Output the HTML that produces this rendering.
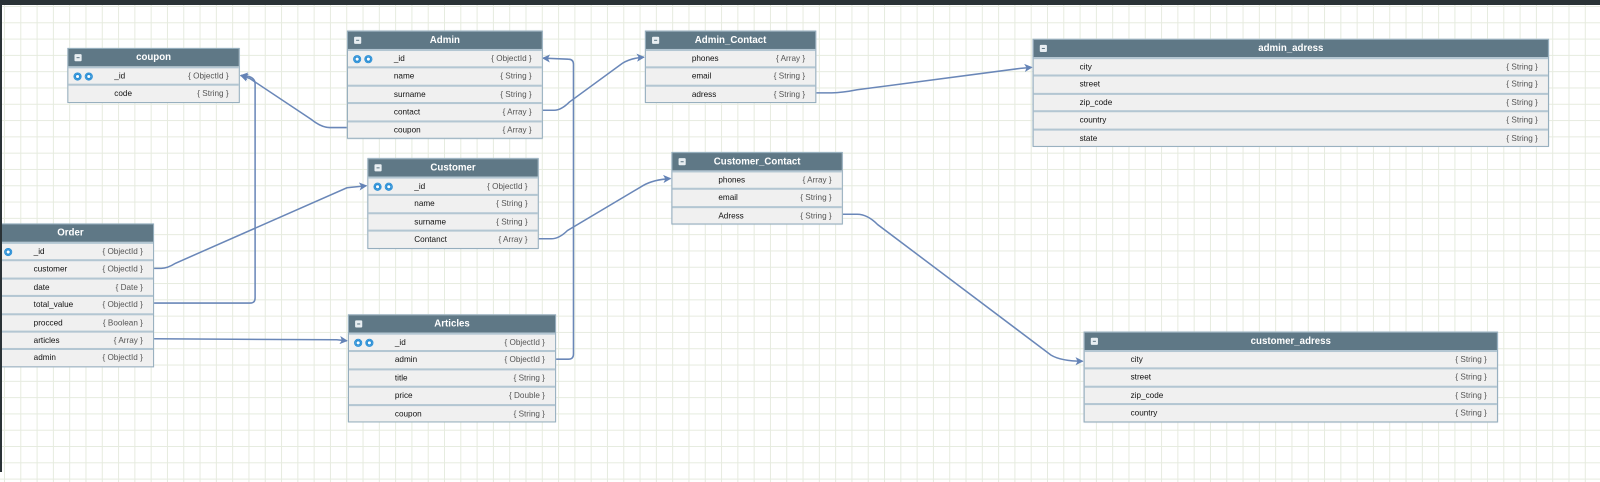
<!DOCTYPE html>
<html><head><meta charset="utf-8"><style>
body{margin:0;width:1600px;height:472px;overflow:hidden;position:relative;font-family:"Liberation Sans",sans-serif;
background-color:#fff;background-image:linear-gradient(#e6ebdf 1px,transparent 1px),linear-gradient(90deg,#e6ebdf 1px,transparent 1px);background-size:16.3px 16.3px;background-position:4px 6px}
.top{position:absolute;left:0;top:0;width:1600px;height:5px;background:#2a3236;z-index:6}
.lft{position:absolute;left:0;top:0;width:2px;height:472px;background:#2a3236;z-index:6}
.w{position:absolute;left:0;top:0;width:1568px;height:463px;transform:scale(1.0204);transform-origin:0 0}
.t{position:absolute;border:1px solid #94adbd;background:#f0f0f0;box-shadow:0 0 1px #b0c0cc}
.h{height:17px;background:#5f7886;color:#fff;font-weight:bold;font-size:9.5px;text-align:center;line-height:17px;position:relative}
.h:before{content:"";position:absolute;left:6px;top:5px;width:7px;height:7px;background:#e8eef2;border-radius:1px}
.h:after{content:"";position:absolute;left:8px;top:8px;width:3px;height:1px;background:#5f7886}
.r{height:15.4px;border-top:2px solid #b3c6d2;position:relative;font-size:8px;line-height:15px;color:#111}
.n{position:absolute;left:45px}
.ty{position:absolute;right:10px;color:#555}
.k:before,.k:after{content:"";position:absolute;top:4px;width:6px;height:6px;border-radius:50%;background:#fff;border:1px solid #2a8fd6;box-shadow:inset 0 0 0 1.5px #2a8fd6}
.k:before{left:5px}.k:after{left:16px}
svg{position:absolute;left:0;top:0}
</style></head><body>
<div class="top"></div><div class="lft"></div>
<div class="w">
<svg width="1600" height="472">
<defs><marker id="a" markerWidth="8" markerHeight="8" refX="7" refY="4" orient="auto" markerUnits="userSpaceOnUse"><path d="M0,0 L8,4 L0,8 L2,4z" fill="#6483b6"/></marker></defs>
<g fill="none" stroke="#6a87b8" stroke-width="1.5">
<path d="M340,125 L323,125 Q315,125 305,117 L245,77 L236,74" marker-end="url(#a)"/>
<path d="M149,297 L245,297 Q250,297 250,292 L250,82 Q250,77 244,75 L236,74" marker-end="url(#a)"/>
<path d="M149,263 L158,263 Q164,263 172,258 L340,184 L359,182" marker-end="url(#a)"/>
<path d="M149,332 L330,333 L340,334" marker-end="url(#a)"/>
<path d="M543,352 L557,352 Q562,352 562,347 L562,63 Q562,58 557,58 L532,57" marker-end="url(#a)"/>
<path d="M530,108 L543,108 Q550,108 558,100 L610,62 Q618,57 631,56" marker-end="url(#a)"/>
<path d="M798,91 L815,91 Q825,91 840,88 L1000,67 L1011,66" marker-end="url(#a)"/>
<path d="M526,234 L540,234 Q548,234 556,226 L630,182 Q640,176 657,175" marker-end="url(#a)"/>
<path d="M824,210 L840,210 Q850,210 860,220 L1030,348 Q1040,354 1061,354" marker-end="url(#a)"/>
</g></svg>

<div class="t" style="left:66px;top:47px;width:167px"><div class="h">coupon</div>
<div class="r k"><span class="n">_id</span><span class="ty">{ ObjectId }</span></div>
<div class="r"><span class="n">code</span><span class="ty">{ String }</span></div></div>

<div class="t" style="left:340px;top:30px;width:190px"><div class="h">Admin</div>
<div class="r k"><span class="n">_id</span><span class="ty">{ ObjectId }</span></div>
<div class="r"><span class="n">name</span><span class="ty">{ String }</span></div>
<div class="r"><span class="n">surname</span><span class="ty">{ String }</span></div>
<div class="r"><span class="n">contact</span><span class="ty">{ Array }</span></div>
<div class="r"><span class="n">coupon</span><span class="ty">{ Array }</span></div></div>

<div class="t" style="left:632px;top:30px;width:166px"><div class="h">Admin_Contact</div>
<div class="r"><span class="n">phones</span><span class="ty">{ Array }</span></div>
<div class="r"><span class="n">email</span><span class="ty">{ String }</span></div>
<div class="r"><span class="n">adress</span><span class="ty">{ String }</span></div></div>

<div class="t" style="left:1012px;top:38px;width:504px"><div class="h">admin_adress</div>
<div class="r"><span class="n">city</span><span class="ty">{ String }</span></div>
<div class="r"><span class="n">street</span><span class="ty">{ String }</span></div>
<div class="r"><span class="n">zip_code</span><span class="ty">{ String }</span></div>
<div class="r"><span class="n">country</span><span class="ty">{ String }</span></div>
<div class="r"><span class="n">state</span><span class="ty">{ String }</span></div></div>

<div class="t" style="left:360px;top:155px;width:166px"><div class="h">Customer</div>
<div class="r k"><span class="n">_id</span><span class="ty">{ ObjectId }</span></div>
<div class="r"><span class="n">name</span><span class="ty">{ String }</span></div>
<div class="r"><span class="n">surname</span><span class="ty">{ String }</span></div>
<div class="r"><span class="n">Contanct</span><span class="ty">{ Array }</span></div></div>

<div class="t" style="left:658px;top:149px;width:166px"><div class="h">Customer_Contact</div>
<div class="r"><span class="n">phones</span><span class="ty">{ Array }</span></div>
<div class="r"><span class="n">email</span><span class="ty">{ String }</span></div>
<div class="r"><span class="n">Adress</span><span class="ty">{ String }</span></div></div>

<div class="t" style="left:-13px;top:219px;width:162px"><div class="h">Order</div>
<div class="r k"><span class="n">_id</span><span class="ty">{ ObjectId }</span></div>
<div class="r"><span class="n">customer</span><span class="ty">{ ObjectId }</span></div>
<div class="r"><span class="n">date</span><span class="ty">{ Date }</span></div>
<div class="r"><span class="n">total_value</span><span class="ty">{ ObjectId }</span></div>
<div class="r"><span class="n">procced</span><span class="ty">{ Boolean }</span></div>
<div class="r"><span class="n">articles</span><span class="ty">{ Array }</span></div>
<div class="r"><span class="n">admin</span><span class="ty">{ ObjectId }</span></div></div>

<div class="t" style="left:341px;top:308px;width:202px"><div class="h">Articles</div>
<div class="r k"><span class="n">_id</span><span class="ty">{ ObjectId }</span></div>
<div class="r"><span class="n">admin</span><span class="ty">{ ObjectId }</span></div>
<div class="r"><span class="n">title</span><span class="ty">{ String }</span></div>
<div class="r"><span class="n">price</span><span class="ty">{ Double }</span></div>
<div class="r"><span class="n">coupon</span><span class="ty">{ String }</span></div></div>

<div class="t" style="left:1062px;top:325px;width:404px"><div class="h">customer_adress</div>
<div class="r"><span class="n">city</span><span class="ty">{ String }</span></div>
<div class="r"><span class="n">street</span><span class="ty">{ String }</span></div>
<div class="r"><span class="n">zip_code</span><span class="ty">{ String }</span></div>
<div class="r"><span class="n">country</span><span class="ty">{ String }</span></div></div>
</div>
</body></html>
